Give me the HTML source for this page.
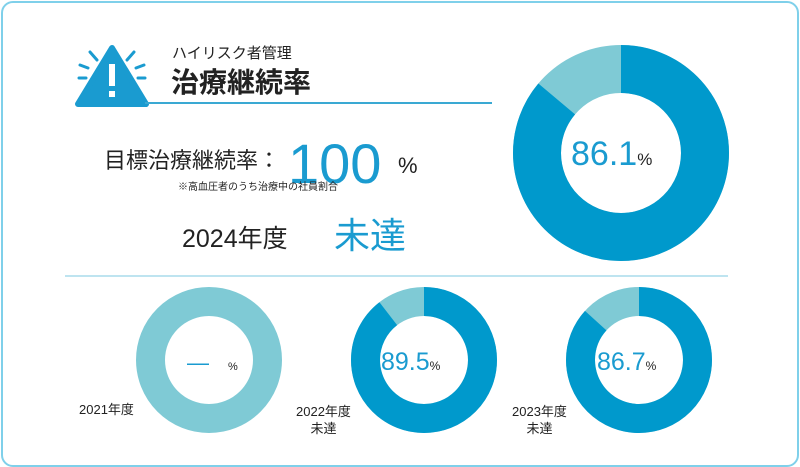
<!DOCTYPE html>
<html><head><meta charset="utf-8"><style>
html,body{margin:0;padding:0;background:#fff;}
body{width:800px;height:467px;position:relative;overflow:hidden;font-family:"Liberation Sans","Noto Sans CJK JP",sans-serif;}
.card{position:absolute;left:1px;top:1px;width:794px;height:462px;border:2px solid #7fd0ea;border-radius:12px;}
.t{position:absolute;white-space:nowrap;color:#222;line-height:1;}
.b{color:#1a9bd0;}
</style></head><body>
<div class="card"></div>
<svg width="800" height="467" style="position:absolute;left:0;top:0">
  <path d="M112 48 L146 104 L78 104 Z" fill="#1a9bd0" stroke="#1a9bd0" stroke-width="6" stroke-linejoin="round"/>
  <rect x="109" y="64" width="6" height="22" fill="#fff"/>
  <rect x="109" y="91" width="6" height="6" fill="#fff"/>
  <g stroke="#1a9bd0" stroke-width="3" stroke-linecap="round">
    <line x1="90" y1="52" x2="97" y2="60"/><line x1="80" y1="65" x2="88" y2="68"/><line x1="79" y1="78" x2="86" y2="78"/>
    <line x1="134" y1="52" x2="127" y2="60"/><line x1="144" y1="65" x2="136" y2="68"/><line x1="145" y1="78" x2="138" y2="78"/>
  </g>
  <line x1="145" y1="103" x2="492" y2="103" stroke="#3aa9d3" stroke-width="2"/>
  <line x1="65" y1="276" x2="728" y2="276" stroke="#a9dcec" stroke-width="1.5"/>
  <circle cx="621" cy="153" r="84" fill="none" stroke="#7fcad5" stroke-width="48"/>
  <circle cx="621" cy="153" r="84" fill="none" stroke="#0099cc" stroke-width="48" stroke-dasharray="454.4 1000" transform="rotate(-90 621 153)"/>
  <circle cx="209" cy="360" r="58.5" fill="none" stroke="#7fcad5" stroke-width="29"/>
  <circle cx="424" cy="360" r="58.5" fill="none" stroke="#7fcad5" stroke-width="29"/>
  <circle cx="424" cy="360" r="58.5" fill="none" stroke="#0099cc" stroke-width="29" stroke-dasharray="329 1000" transform="rotate(-90 424 360)"/>
  <circle cx="639" cy="360" r="58.5" fill="none" stroke="#7fcad5" stroke-width="29"/>
  <circle cx="639" cy="360" r="58.5" fill="none" stroke="#0099cc" stroke-width="29" stroke-dasharray="318.7 1000" transform="rotate(-90 639 360)"/>
</svg>
<div class="t" style="left:172px;top:46px;font-size:15px;">ハイリスク者管理</div>
<div class="t" style="left:171px;top:69px;font-size:28px;font-weight:bold;">治療継続率</div>
<div class="t" style="left:104px;top:150px;font-size:22px;">目標治療継続率：</div>
<div class="t b" style="left:288px;top:136px;font-size:56px;">100</div>
<div class="t" style="left:398px;top:155px;font-size:22px;">%</div>
<div class="t" style="left:178px;top:183px;font-size:10px;">※高血圧者のうち治療中の社員割合</div>
<div class="t" style="left:182px;top:227px;font-size:25px;">2024年度</div>
<div class="t b" style="left:334px;top:218px;font-size:36px;">未達</div>
<div class="t" style="left:571px;top:137px;font-size:34px;"><span class="b">86.1</span><span style="font-size:17px">%</span></div>
<div class="t b" style="left:187px;top:352px;font-size:22px;">—</div>
<div class="t" style="left:228px;top:362px;font-size:11px;">%</div>
<div class="t" style="left:381px;top:350px;font-size:25px;"><span class="b">89.5</span><span style="font-size:12px">%</span></div>
<div class="t" style="left:597px;top:350px;font-size:25px;"><span class="b">86.7</span><span style="font-size:12px">%</span></div>
<div class="t" style="left:79px;top:403px;font-size:13px;">2021年度</div>
<div class="t" style="left:296px;top:403px;font-size:13px;text-align:center;line-height:17px;">2022年度<br>未達</div>
<div class="t" style="left:512px;top:403px;font-size:13px;text-align:center;line-height:17px;">2023年度<br>未達</div>
</body></html>
